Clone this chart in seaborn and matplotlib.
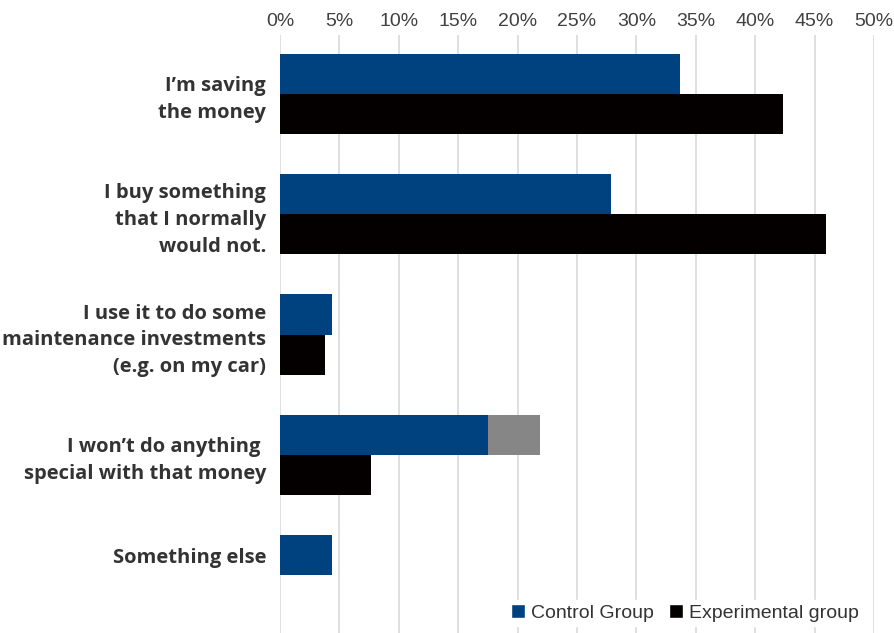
import matplotlib
matplotlib.use("Agg")
import matplotlib.pyplot as plt
import seaborn as sns
import pandas as pd
from matplotlib.patches import Patch
from matplotlib.ticker import FuncFormatter
from matplotlib.transforms import ScaledTranslation

categories = [
    "I’m saving\nthe money",
    "I buy something\nthat I normally\nwould not.",
    "I use it to do some\nmaintenance investments\n(e.g. on my car)",
    "I won’t do anything \nspecial with that money",
    "Something else",
]
control = [33.7, 27.9, 4.4, 17.5, 4.4]
experimental = [42.3, 46.0, 3.8, 7.7, 0.0]
control_extra = [0.0, 0.0, 0.0, 4.4, 0.0]
groups = ["Control Group", "Experimental group"]
xticks = [0, 5, 10, 15, 20, 25, 30, 35, 40, 45, 50]

BLUE = "#00417f"
BLACK = "#050000"
GRAY = "#868686"

df = pd.DataFrame({
    "category": categories * 2,
    "group": [groups[0]] * len(categories) + [groups[1]] * len(categories),
    "value": control + experimental,
})

sns.set_style("white")
fig = plt.figure(figsize=(8.95, 6.33), dpi=100)
ax = fig.add_axes([280 / 895, 0.0, (874 - 280) / 895, 1 - 35 / 633])

sns.barplot(data=df, y="category", x="value", hue="group", order=categories,
            hue_order=groups, palette=[BLUE, BLACK], width=0.667,
            orient="h", ax=ax, legend=False, saturation=1,
            edgecolor="none", linewidth=0)

# gray extension on control bars
for patch, extra, base in zip(ax.containers[0], control_extra, control):
    if extra > 0:
        ax.barh(patch.get_y() + patch.get_height() / 2, extra, left=base,
                height=patch.get_height(), color=GRAY, edgecolor="none",
                linewidth=0, zorder=3)

ax.set_xlim(0, 50)
ax.set_ylim(4.48, -0.49)
ax.set_xticks(xticks)
ax.xaxis.set_major_formatter(FuncFormatter(lambda v, p: f"{int(v)}%"))
ax.xaxis.tick_top()
ax.tick_params(axis="x", length=0, pad=3.5, labelsize=14, labelcolor="#404040")
for lbl in ax.get_xticklabels():
    lbl.set_fontfamily("Liberation Sans")
ax.tick_params(axis="y", length=0, pad=10)
ax.grid(axis="x", color="#d9d9d9", linewidth=1.2, zorder=0)
ax.set_axisbelow(True)
for s in ax.spines.values():
    s.set_visible(False)
ax.set_xlabel("")
ax.set_ylabel("")
ylabels = ax.get_yticklabels()
for lbl in ylabels:
    lbl.set_fontfamily("Open Sans")
    lbl.set_fontweight("bold")
    lbl.set_fontsize(14.5)
    lbl.set_color("#333333")
    lbl.set_linespacing(1.45)
    lbl.set_horizontalalignment("right")
    lbl.set_multialignment("right")
# single-bar category: label sits on the bar
ylabels[-1].set_transform(ylabels[-1].get_transform() + ScaledTranslation(0, 20 / 100, fig.dpi_scale_trans))

handles = [Patch(facecolor=BLUE, label=groups[0]), Patch(facecolor=BLACK, label=groups[1])]
leg = fig.legend(handles=handles, loc="center right", bbox_to_anchor=(872 / 895, 1 - 613 / 633),
                 ncol=2, frameon=True, handlelength=0.7, handleheight=0.7,
                 handletextpad=0.3, columnspacing=0.8, borderpad=0.2,
                 prop={"family": "Liberation Sans", "size": 14})
leg.get_frame().set_edgecolor("white")
leg.get_frame().set_facecolor("white")
leg.get_frame().set_alpha(1)
for t in leg.get_texts():
    t.set_color("#333333")

fig.savefig("out.png", dpi=100)
